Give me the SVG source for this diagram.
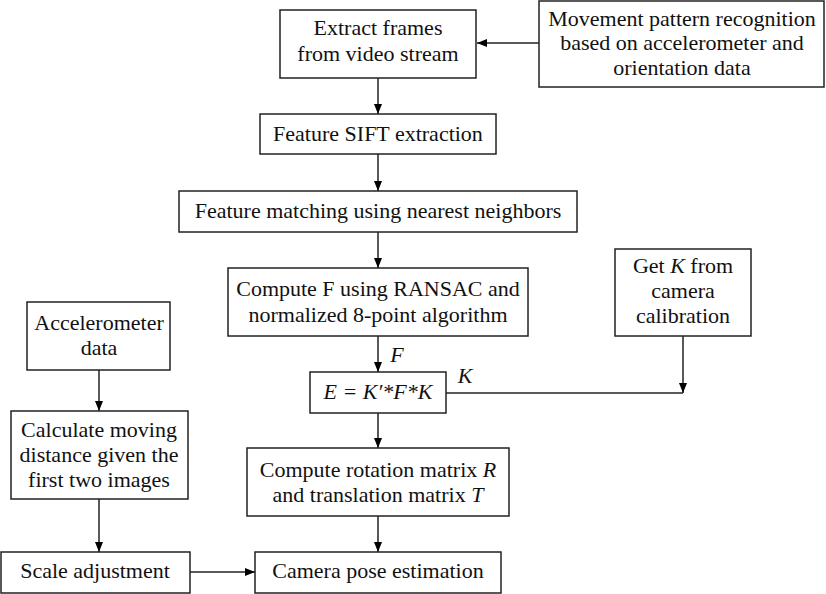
<svg xmlns="http://www.w3.org/2000/svg" width="826" height="594" viewBox="0 0 826 594">
<defs>
<marker id="ah" markerWidth="10" markerHeight="8" refX="10" refY="4" orient="auto" markerUnits="userSpaceOnUse">
<path d="M0,0 L10,4 L0,8 Z" fill="#000"/>
</marker>
</defs>
<style>
rect{fill:#fff;stroke:#222;stroke-width:1.5}
text{font-family:'Liberation Serif','DejaVu Serif','Noto Serif',serif;font-size:22px;fill:#111;text-anchor:middle}
.i{font-style:italic}
.c line{stroke:#222;stroke-width:1.5;fill:none}
.c .a{marker-end:url(#ah)}
</style>
<rect x="0" y="0" width="826" height="594" style="fill:#fff;stroke:none"/>
<g class="c" id="connectors">
<line class="a" x1="539" y1="43" x2="477" y2="43"/>
<line class="a" x1="378" y1="78" x2="378" y2="114"/>
<line class="a" x1="378" y1="154" x2="378" y2="191"/>
<line class="a" x1="378" y1="232" x2="378" y2="268"/>
<line class="a" x1="378" y1="336" x2="378" y2="372"/>
<line x1="446" y1="393" x2="683" y2="393"/>
<line class="a" x1="683" y1="336" x2="683" y2="393"/>
<line class="a" x1="378" y1="413" x2="378" y2="448"/>
<line class="a" x1="378" y1="516" x2="378" y2="552"/>
<line class="a" x1="99" y1="370" x2="99" y2="411"/>
<line class="a" x1="99" y1="499" x2="99" y2="552"/>
<line class="a" x1="190" y1="572" x2="255" y2="572"/>
<text class="i" x="397" y="362">F</text>
<text class="i" x="465" y="383">K</text>
</g>
<g id="extract"><rect x="280" y="10" width="196" height="68"/><text x="378" y="35">Extract frames</text><text x="378" y="61">from video stream</text></g>
<g id="movement"><rect x="539" y="1" width="285" height="86"/><text x="682" y="26">Movement pattern recognition</text><text x="682" y="50">based on accelerometer and</text><text x="682" y="75">orientation data</text></g>
<g id="sift"><rect x="260" y="114" width="236" height="40"/><text x="378" y="141">Feature SIFT extraction</text></g>
<g id="matching"><rect x="179" y="191" width="398" height="41"/><text x="378" y="218">Feature matching using nearest neighbors</text></g>
<g id="computeF"><rect x="228" y="268" width="300" height="68"/><text x="378" y="296">Compute F using RANSAC and</text><text x="378" y="322">normalized 8-point algorithm</text></g>
<g id="getK"><rect x="615" y="249" width="136" height="87"/><text x="683" y="273">Get <tspan class="i">K</tspan> from</text><text x="683" y="298">camera</text><text x="683" y="323">calibration</text></g>
<g id="essential"><rect x="310" y="372" width="136" height="41"/><text class="i" x="378" y="399">E = K′*F*K</text></g>
<g id="rotation"><rect x="247" y="448" width="262" height="68"/><text x="378" y="477">Compute rotation matrix <tspan class="i">R</tspan></text><text x="378" y="502">and translation matrix <tspan class="i">T</tspan></text></g>
<g id="pose"><rect x="255" y="552" width="246" height="41"/><text x="378" y="578">Camera pose estimation</text></g>
<g id="accel"><rect x="27" y="302" width="143" height="68"/><text x="99" y="330">Accelerometer</text><text x="99" y="355">data</text></g>
<g id="calc"><rect x="11" y="411" width="177" height="88"/><text x="99" y="437">Calculate moving</text><text x="99" y="462">distance given the</text><text x="99" y="487">first two images</text></g>
<g id="scale"><rect x="1" y="552" width="189" height="41"/><text x="95" y="578">Scale adjustment</text></g>
</svg>
